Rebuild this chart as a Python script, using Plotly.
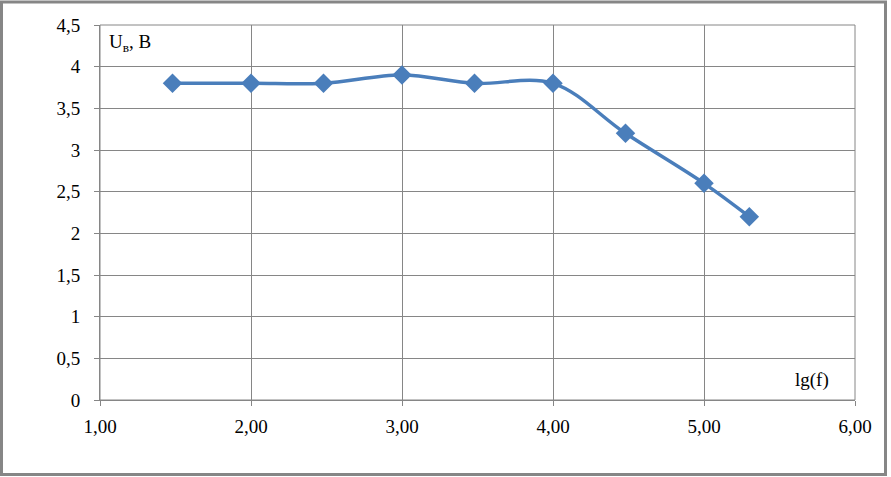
import plotly.graph_objects as go

lg_f = [1.48, 2.0, 2.48, 3.0, 3.48, 4.0, 4.48, 5.0, 5.3]
u_v = [3.8, 3.8, 3.8, 3.9, 3.8, 3.8, 3.2, 2.6, 2.2]

x_ticks = [1, 2, 3, 4, 5, 6]
y_ticks = [0, 0.5, 1, 1.5, 2, 2.5, 3, 3.5, 4, 4.5]

blue = "#4a7ebb"
grid = "#868686"
font = dict(family="Liberation Serif", size=19, color="black")

fig = go.Figure()
fig.add_trace(go.Scatter(
    x=lg_f, y=u_v, mode="lines+markers",
    line=dict(color=blue, width=3.5, shape="spline", smoothing=1),
    marker=dict(symbol="diamond", size=15, color=blue),
    showlegend=False,
))

fig.update_layout(
    template="none",
    width=891, height=477,
    margin=dict(l=100, r=36, t=25, b=77),
    paper_bgcolor="white", plot_bgcolor="white",
    font=font,
    separators=", ",
    xaxis=dict(range=[1, 6], tickvals=x_ticks, tickformat=".2f", tickfont=font,
               showgrid=True, gridcolor=grid, gridwidth=1,
               showline=True, linecolor=grid, linewidth=1,
               ticks="outside", ticklen=5, tickcolor=grid, tickwidth=1,
               ticklabelstandoff=4, zeroline=False),
    yaxis=dict(range=[0, 4.5], tickvals=y_ticks, tickfont=font,
               showgrid=True, gridcolor=grid, gridwidth=1,
               showline=True, linecolor=grid, linewidth=1,
               ticks="outside", ticklen=5, tickcolor=grid, tickwidth=1,
               ticklabelstandoff=10, zeroline=False),
    shapes=[dict(type="rect", xref="x domain", yref="y domain", x0=0, y0=0, x1=1, y1=1,
                 line=dict(color=grid, width=1), layer="below")],
    annotations=[
        dict(text="U<sub>в</sub>, B", xref="x", yref="y", x=1.045, y=4.28,
             xanchor="left", yanchor="middle", showarrow=False, font=font),
        dict(text="lg(f)", xref="x", yref="y", x=5.84, y=0.24,
             xanchor="right", yanchor="middle", showarrow=False, font=font),
    ],
)

# outer frame around the whole chart (paper coords relative to plot area)
pw, ph = 891 - 100 - 36, 477 - 25 - 77
fig.add_shape(type="rect", xref="paper", yref="paper",
              x0=-98.5 / pw, y0=-(77 - 2.5) / ph, x1=1 + (36 - 5.5) / pw, y1=1 + (25 - 2) / ph,
              line=dict(color=grid, width=3))

fig.write_html("out.html", config={"displayModeBar": False},
               post_script="document.body.style.margin='0';document.body.style.overflow='hidden';")
